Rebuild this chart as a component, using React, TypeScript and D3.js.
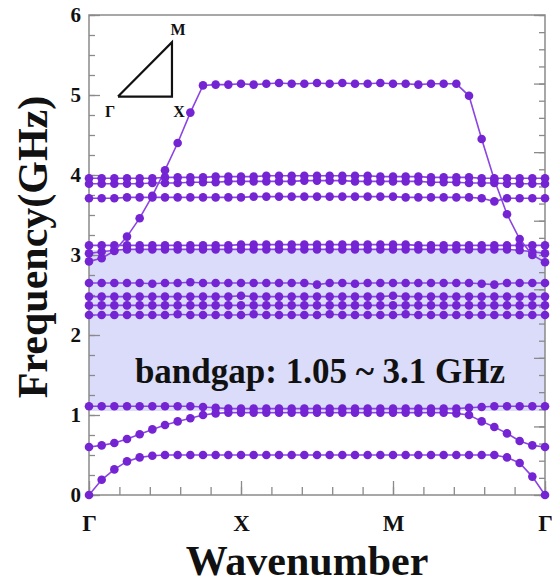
import { useEffect, useRef } from 'react'
import * as d3 from 'd3'

// dispersion bands sampled at 37 points along Γ-X-M-Γ (index 0..36)
const band1 = [0, 0.19, 0.32, 0.42, 0.47, 0.49, 0.5, 0.5, 0.5, 0.5,
  0.5, 0.5, 0.5, 0.5, 0.5, 0.5, 0.5, 0.5, 0.5, 0.5,
  0.5, 0.5, 0.5, 0.5, 0.5, 0.5, 0.5, 0.5, 0.5, 0.5,
  0.5, 0.5, 0.5, 0.47, 0.4, 0.23, 0]
const band2 = [0.6, 0.62, 0.65, 0.7, 0.76, 0.82, 0.875, 0.92, 0.96, 1.0,
  1.02, 1.03, 1.03, 1.03, 1.03, 1.03, 1.03, 1.03, 1.03, 1.03,
  1.03, 1.03, 1.03, 1.03, 1.03, 1.03, 1.03, 1.03, 1.03, 1.02,
  1.0, 0.92, 0.85, 0.77, 0.675, 0.62, 0.6]
const band3 = [1.11, 1.11, 1.11, 1.11, 1.11, 1.11, 1.11, 1.11, 1.11, 1.1,
  1.09, 1.08, 1.08, 1.08, 1.08, 1.08, 1.08, 1.08, 1.08, 1.08,
  1.08, 1.08, 1.08, 1.08, 1.08, 1.08, 1.08, 1.08, 1.08, 1.08,
  1.09, 1.1, 1.11, 1.11, 1.11, 1.11, 1.11]
const band4 = [2.25, 2.25, 2.25, 2.25, 2.25, 2.25, 2.25, 2.26, 2.25, 2.25,
  2.25, 2.25, 2.25, 2.26, 2.25, 2.25, 2.25, 2.25, 2.25, 2.26,
  2.25, 2.25, 2.25, 2.25, 2.25, 2.26, 2.25, 2.25, 2.25, 2.25,
  2.25, 2.25, 2.25, 2.25, 2.25, 2.25, 2.25]
const band5 = [2.37, 2.37, 2.37, 2.37, 2.37, 2.37, 2.37, 2.37, 2.37, 2.37,
  2.37, 2.37, 2.37, 2.37, 2.37, 2.37, 2.37, 2.37, 2.37, 2.37,
  2.37, 2.37, 2.37, 2.37, 2.37, 2.37, 2.37, 2.37, 2.37, 2.37,
  2.37, 2.37, 2.37, 2.37, 2.37, 2.37, 2.37]
const band6 = [2.48, 2.48, 2.48, 2.48, 2.48, 2.48, 2.48, 2.48, 2.48, 2.48,
  2.48, 2.48, 2.49, 2.48, 2.48, 2.48, 2.48, 2.48, 2.48, 2.48,
  2.48, 2.48, 2.48, 2.48, 2.49, 2.48, 2.48, 2.48, 2.48, 2.48,
  2.48, 2.48, 2.48, 2.48, 2.48, 2.48, 2.48]
const band7 = [2.65, 2.65, 2.65, 2.65, 2.65, 2.64, 2.65, 2.65, 2.66, 2.65,
  2.65, 2.65, 2.65, 2.65, 2.65, 2.65, 2.65, 2.65, 2.63, 2.65,
  2.65, 2.64, 2.65, 2.65, 2.65, 2.65, 2.65, 2.65, 2.65, 2.65,
  2.65, 2.64, 2.63, 2.65, 2.65, 2.65, 2.65]
const band8 = [3.02, 3.04, 3.06, 3.07, 3.07, 3.07, 3.07, 3.07, 3.07, 3.07,
  3.07, 3.07, 3.07, 3.07, 3.07, 3.07, 3.07, 3.07, 3.07, 3.07,
  3.07, 3.07, 3.07, 3.07, 3.07, 3.07, 3.07, 3.07, 3.07, 3.07,
  3.07, 3.07, 3.07, 3.07, 3.06, 3.04, 3.02]
const band9 = [3.12, 3.12, 3.12, 3.12, 3.12, 3.12, 3.12, 3.12, 3.12, 3.12,
  3.12, 3.12, 3.13, 3.13, 3.13, 3.13, 3.13, 3.13, 3.13, 3.13,
  3.13, 3.13, 3.13, 3.13, 3.13, 3.13, 3.12, 3.12, 3.12, 3.12,
  3.12, 3.12, 3.12, 3.12, 3.12, 3.12, 3.12]
const band10 = [2.92, 2.96, 3.05, 3.23, 3.46, 3.74, 4.06, 4.4, 4.78, 5.12,
  5.13, 5.13, 5.14, 5.13, 5.14, 5.15, 5.14, 5.14, 5.15, 5.14,
  5.15, 5.14, 5.14, 5.15, 5.14, 5.14, 5.13, 5.14, 5.14, 5.14,
  4.99, 4.45, 3.94, 3.51, 3.2, 3.0, 2.91]
const band11 = [3.71, 3.71, 3.71, 3.72, 3.72, 3.72, 3.72, 3.72, 3.72, 3.72,
  3.72, 3.72, 3.72, 3.73, 3.73, 3.73, 3.73, 3.73, 3.73, 3.73,
  3.73, 3.73, 3.73, 3.73, 3.73, 3.72, 3.72, 3.72, 3.72, 3.72,
  3.72, 3.71, 3.67, 3.71, 3.71, 3.71, 3.71]
const band12 = [3.89, 3.89, 3.89, 3.89, 3.89, 3.9, 3.9, 3.9, 3.91, 3.91,
  3.91, 3.92, 3.92, 3.92, 3.92, 3.92, 3.92, 3.93, 3.93, 3.93,
  3.93, 3.92, 3.92, 3.92, 3.92, 3.92, 3.92, 3.91, 3.91, 3.91,
  3.9, 3.9, 3.9, 3.89, 3.89, 3.89, 3.89]
const band13 = [3.96, 3.96, 3.96, 3.96, 3.96, 3.96, 3.97, 3.97, 3.97, 3.97,
  3.98, 3.98, 3.98, 3.98, 3.99, 3.99, 3.99, 3.99, 3.99, 3.99,
  3.99, 3.99, 3.99, 3.98, 3.98, 3.98, 3.98, 3.97, 3.97, 3.97,
  3.97, 3.96, 3.96, 3.96, 3.96, 3.96, 3.96]

const bands = [band1, band2, band3, band4, band5, band6, band7, band8, band9, band10, band11, band12, band13]

const symIndex = [0, 12, 24, 36]
const symLabels = ['Γ', 'X', 'M', 'Γ']
const yTicks = [0, 1, 2, 3, 4, 5, 6]
const gap = [1.05, 3.06]
const gapLabel = 'bandgap: 1.05 ~ 3.1 GHz'

// Brillouin zone inset, in plot coordinates (k index, GHz)
const insetK = [2.29, 6.55, 6.55]
const insetF = [4.98, 4.98, 5.66]
const insetLabels = ['Γ', 'X', 'M']

const FONT = "'Liberation Serif', 'Times New Roman', serif"
const DOT = '#7424d3'
const LINE = '#8c45e2'
const FRAME = '#8a8a8a'

const BandChart = () => {
  const svgRef = useRef<SVGSVGElement>(null)

  useEffect(() => {
    const W = 552
    const H = 583
    const margin = { top: 15, right: 7, bottom: 88, left: 89 }
    const width = W - margin.left - margin.right
    const height = H - margin.top - margin.bottom

    d3.select(svgRef.current).selectAll('*').remove()

    const svg = d3.select(svgRef.current)
      .attr('width', W)
      .attr('height', H)
      .append('g')
      .attr('transform', `translate(${margin.left},${margin.top})`)

    const x = d3.scaleLinear().domain([0, 36]).range([0, width])
    const y = d3.scaleLinear().domain([0, 6]).range([height, 0])
    const yRight = d3.scaleLinear().domain([0, 7]).range([height, 0])

    // bandgap shading
    svg.append('rect')
      .attr('x', 0)
      .attr('width', width)
      .attr('y', y(gap[1]))
      .attr('height', y(gap[0]) - y(gap[1]))
      .attr('fill', '#dadcf9')

    const styleAxis = (g: d3.Selection<SVGGElement, unknown, null, undefined>) => {
      g.select('.domain').remove()
      g.selectAll('line').attr('stroke', FRAME).attr('stroke-width', 1.3)
      g.selectAll('text')
        .attr('fill', '#111')
        .style('font-family', FONT)
        .style('font-weight', 'bold')
    }

    // left axis
    svg.append('g')
      .call(d3.axisLeft(y).tickValues(d3.range(0, 6.01, 0.25)).tickSize(-6).tickFormat(() => ''))
      .call(styleAxis)
    svg.append('g')
      .call(d3.axisLeft(y).tickValues(yTicks).tickSize(-11).tickPadding(8).tickFormat(d3.format('d')))
      .call(styleAxis)
      .selectAll('text')
      .style('font-size', '21px')

    // right axis (inward ticks only)
    svg.append('g')
      .attr('transform', `translate(${width},0)`)
      .call(d3.axisRight(yRight).tickValues(d3.range(0, 7.01, 0.25)).tickSize(-6).tickFormat(() => ''))
      .call(styleAxis)
    svg.append('g')
      .attr('transform', `translate(${width},0)`)
      .call(d3.axisRight(yRight).tickValues(d3.range(0, 8)).tickSize(-11).tickFormat(() => ''))
      .call(styleAxis)

    // bottom axis
    svg.append('g')
      .attr('transform', `translate(0,${height})`)
      .call(d3.axisBottom(x).tickValues(d3.range(0, 36.01, 2.4)).tickSize(-8).tickFormat(() => ''))
      .call(styleAxis)
    svg.append('g')
      .attr('transform', `translate(0,${height})`)
      .call(d3.axisBottom(x).tickValues(symIndex).tickSize(-14).tickPadding(20)
        .tickFormat((_, i) => symLabels[i]))
      .call(styleAxis)
      .selectAll('text')
      .style('font-size', '23px')

    // frame
    svg.append('rect')
      .attr('width', width)
      .attr('height', height)
      .attr('fill', 'none')
      .attr('stroke', FRAME)
      .attr('stroke-width', 1.5)

    const line = d3.line<number>()
      .x((_, i) => x(i))
      .y(d => y(d))

    const bandG = svg.selectAll('g.band')
      .data(bands)
      .enter()
      .append('g')
      .attr('class', 'band')

    bandG.append('path')
      .attr('fill', 'none')
      .attr('stroke', LINE)
      .attr('stroke-width', 1.6)
      .attr('d', d => line(d))

    bandG.selectAll('circle')
      .data(d => d)
      .enter()
      .append('circle')
      .attr('cx', (_, i) => x(i))
      .attr('cy', d => y(d))
      .attr('r', 4.3)
      .attr('fill', DOT)

    // bandgap label
    svg.append('text')
      .attr('x', width / 2 + 3)
      .attr('y', y(1.4))
      .attr('text-anchor', 'middle')
      .style('font-family', FONT)
      .style('font-weight', 'bold')
      .style('font-size', '35px')
      .attr('fill', '#111')
      .text(gapLabel)

    // inset triangle
    const tri = d3.line<number>()
      .x(d => x(insetK[d]))
      .y(d => y(insetF[d]))
    svg.append('path')
      .attr('d', tri([0, 1, 2, 0]))
      .attr('fill', 'none')
      .attr('stroke', '#111')
      .attr('stroke-width', 2.2)
    const insetOffset = [[-8, 20], [7, 20], [6, -7]]
    svg.selectAll('text.inset')
      .data(insetLabels)
      .enter()
      .append('text')
      .attr('class', 'inset')
      .attr('x', (_, i) => x(insetK[i]) + insetOffset[i][0])
      .attr('y', (_, i) => y(insetF[i]) + insetOffset[i][1])
      .attr('text-anchor', 'middle')
      .style('font-family', FONT)
      .style('font-weight', 'bold')
      .style('font-size', '16px')
      .attr('fill', '#111')
      .text(d => d)

    // axis titles
    svg.append('text')
      .attr('transform', `translate(${47 - margin.left},${height / 2 - 8}) rotate(-90)`)
      .attr('text-anchor', 'middle')
      .style('font-family', FONT)
      .style('font-weight', 'bold')
      .style('font-size', '42px')
      .attr('fill', '#111')
      .text('Frequency(GHz)')

    svg.append('text')
      .attr('x', width / 2 - 10)
      .attr('y', height + 80)
      .attr('text-anchor', 'middle')
      .style('font-family', FONT)
      .style('font-weight', 'bold')
      .style('font-size', '42px')
      .attr('fill', '#111')
      .text('Wavenumber')
  }, [])

  return <svg ref={svgRef} style={{ display: 'block' }}></svg>
}

export default function App() {
  return (
    <div style={{ position: 'absolute', left: 0, top: 0 }}>
      <BandChart />
    </div>
  )
}
